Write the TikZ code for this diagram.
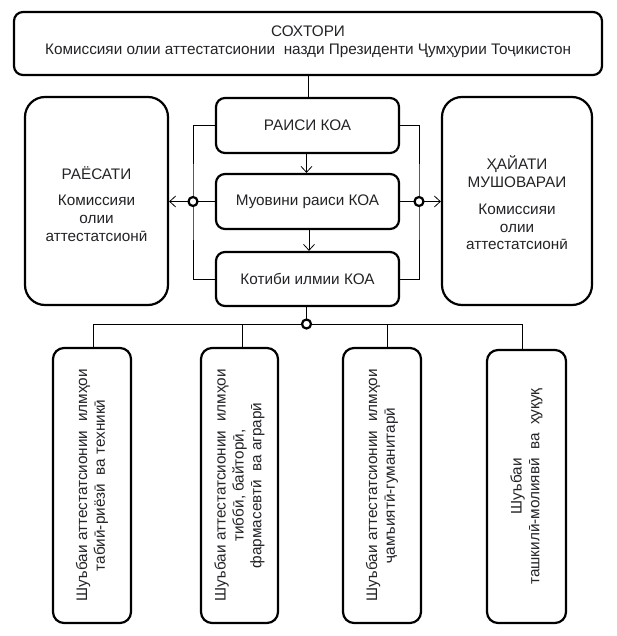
\documentclass[tikz,border=0pt]{standalone}
\usepackage{fontspec}
\setmainfont{Liberation Sans}
\usetikzlibrary{arrows.meta}
\definecolor{txt}{RGB}{35,35,40}
\begin{document}
\begin{tikzpicture}[x=1pt,y=-1pt,
  box/.style={draw, line width=2.2pt, rounded corners=9pt, inner sep=0pt, text=txt},
  sidebox/.style={box, rounded corners=20pt},
  botbox/.style={box, rounded corners=11pt, minimum width=78pt, minimum height=275pt},
  midbox/.style={box, minimum width=183pt, minimum height=55pt},
  lbl/.style={text=txt, align=center, inner sep=0pt, font=\fontsize{15.3}{17.8}\selectfont},
  conn/.style={line width=0.8pt},
  arr/.style={conn, -{Straight Barb[length=6pt,width=11pt,line width=0.8pt]}},
  dot/.style={circle, draw, line width=2.2pt, fill=white, minimum size=9pt, inner sep=0pt}]
\fill[white] (0,0) rectangle (616,636);
\useasboundingbox (0,0) rectangle (616,636);

% boxes
\node[box, minimum width=588pt, minimum height=63pt] (top) at (308,43.5) {};
\node[lbl] (toptxt) at (308,42) {СОХТОРИ\\Комиссияи олии аттестатсионии\ \ назди Президенти Ҷумҳурии Тоҷикистон};

\node[sidebox, minimum width=143pt, minimum height=208pt] (left) at (96.5,201) {};
\node[lbl] (lefttxt) at (96.5,204) {РАЁСАТИ\\[8pt]Комиссияи\\олии\\аттестатсионӣ};

\node[sidebox, minimum width=150pt, minimum height=208pt] (right) at (517,201) {};
\node[lbl] (righttxt) at (517,203) {ҲАЙАТИ\\МУШОВАРАИ\\[9pt]Комиссияи\\олии\\аттестатсионӣ};

\node[midbox] (raisi) at (307.5,125.5) {};
\node[lbl] (raisitxt) at (raisi.center) {РАИСИ КОА};
\node[midbox] (muov) at (307.5,201.5) {};
\node[lbl] (muovtxt) at (muov.center) {Муовини\ раиси КОА};
\node[midbox, minimum height=54pt] (kotibi) at (307.5,279) {};
\node[lbl] (kotibitxt) at (kotibi.center) {Котиби\ илмии\ КОА};

\node[botbox] (b1) at (92,485.5) {};
\node[lbl, rotate=90] (b1txt) at (b1.center) {Шуъбаи аттестатсионии\ \ илмҳои\\табиӣ-риёзӣ\ \ ва техникӣ};
\node[botbox, minimum width=77pt] (b2) at (239.5,485.5) {};
\node[lbl, rotate=90] (b2txt) at (b2.center) {Шуъбаи аттестатсионии\ \ илмҳои\\тиббӣ, байторӣ,\\фармасевтӣ\ \ ва аграрӣ};
\node[botbox] (b3) at (382,485.5) {};
\node[lbl, rotate=90] (b3txt) at (b3.center) {Шуъбаи аттестатсионии\ \ илмҳои\\ҷамъиятӣ-гуманитарӣ};
\node[botbox, minimum width=79pt, minimum height=273pt] (b4) at (526.5,486.5) {};
\node[lbl, rotate=90] (b4txt) at (b4.center) {Шуъбаи\\ташкилӣ-молиявӣ\ \ ва\ \ ҳуқуқ};

% junction coordinates
\coordinate (lj) at (193,201.5);
\coordinate (rj) at (419,201.5);
\coordinate (bj) at (306.5,324);

% connectors
\draw[conn] (top.south) -- (top.south |- raisi.north);
\draw[arr] ([xshift=-1pt]raisi.south) -- ([xshift=-1pt]raisi.south |- muov.north);
\draw[arr] ([xshift=1.5pt]muov.south) -- ([xshift=1.5pt]muov.south |- kotibi.north);

\draw[conn] (raisi.west) -| (lj) |- (kotibi.west);
\draw[conn] (muov.west) -- (lj);
\draw[arr] (lj) -- (lj -| left.east);

\draw[conn] (raisi.east) -| (rj) |- (kotibi.east);
\draw[conn] (muov.east) -- (rj);
\draw[arr] (rj) -- (rj -| right.west);

\draw[conn] ([xshift=-1pt]kotibi.south) -- (bj);
\draw[conn] ([xshift=1pt]b1.north) |- (bj);
\draw[conn] (bj) -| ([xshift=-4.5pt]b4.north);
\draw[conn] ([xshift=2.5pt]b2.north) -- ([xshift=2.5pt]b2.north |- bj);
\draw[conn] ([xshift=5pt]b3.north) -- ([xshift=5pt]b3.north |- bj);

\node[dot] (ljd) at (lj) {};
\node[dot] (rjd) at (rj) {};
\node[dot] (bjd) at (bj) {};
\end{tikzpicture}
\end{document}
